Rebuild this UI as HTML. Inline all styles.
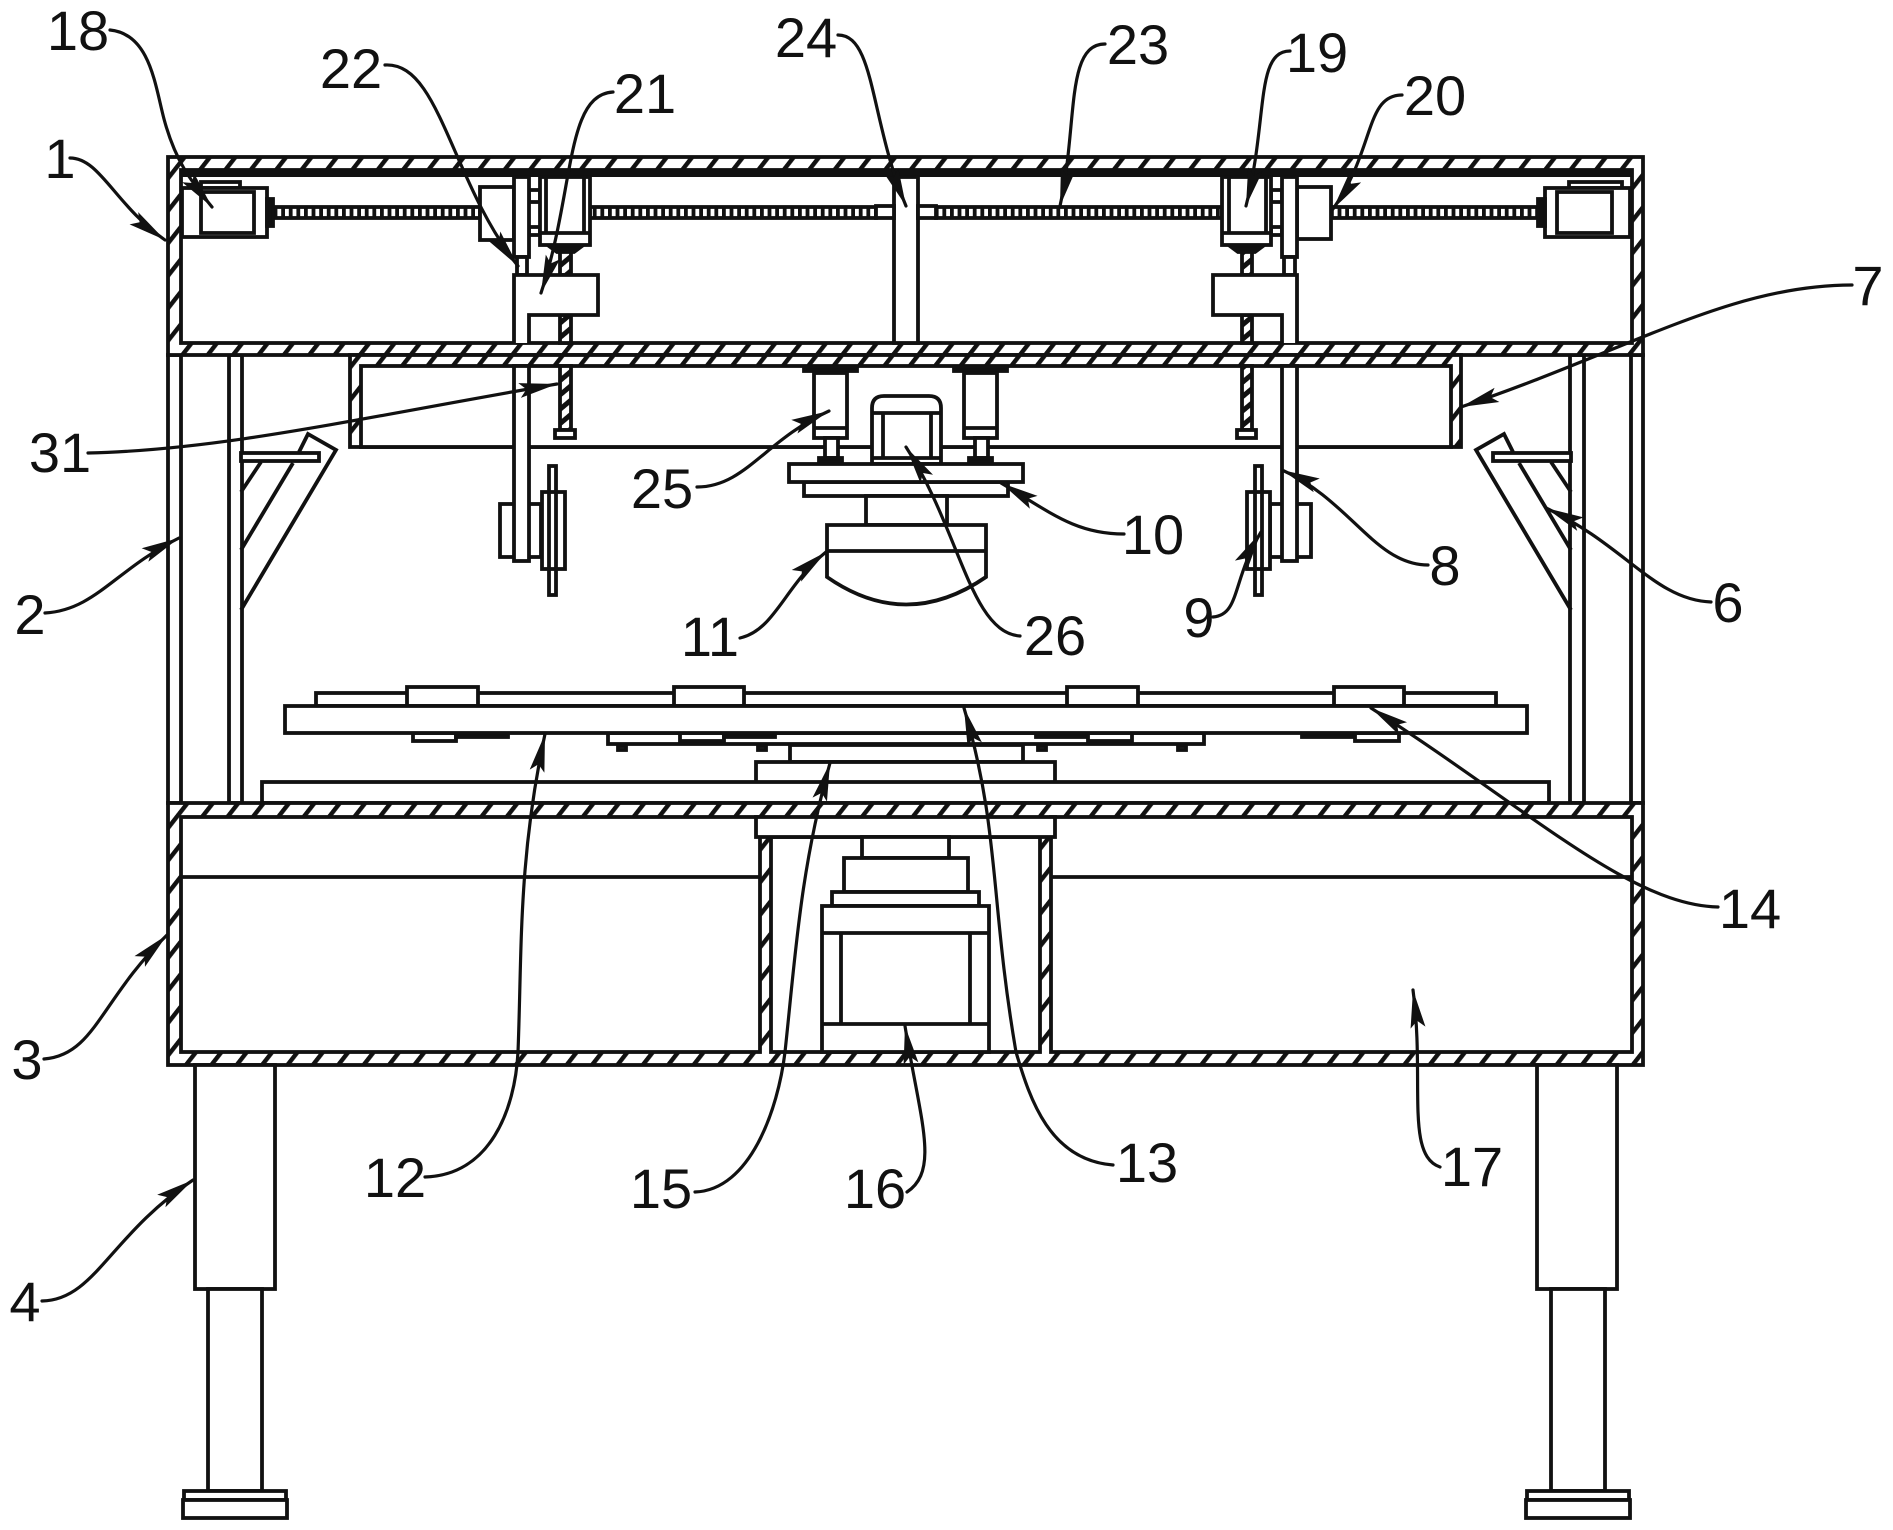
<!DOCTYPE html>
<html>
<head>
<meta charset="utf-8">
<style>
html,body{margin:0;padding:0;background:#fff}
svg{display:block}
text{font-family:"Liberation Sans",sans-serif;font-size:56px;fill:#111;text-anchor:middle}
.s rect,.s path,.s polyline,.s line{stroke:#111;stroke-width:3.8}
.l path{fill:none;stroke:#111;stroke-width:3.2;stroke-linecap:round;marker-end:url(#ah)}
</style>
</head>
<body>
<svg width="1893" height="1530" viewBox="0 0 1893 1530" xmlns="http://www.w3.org/2000/svg">
<defs>
<pattern id="h" patternUnits="userSpaceOnUse" width="20" height="20" patternTransform="rotate(38)">
<rect width="20" height="20" fill="#fff"/><rect x="0" y="0" width="4.4" height="20" fill="#111"/>
</pattern>
<pattern id="sh" patternUnits="userSpaceOnUse" x="0" y="207" width="7.6" height="11">
<rect width="7.6" height="11" fill="#fff"/><rect width="3.8" height="11" fill="#111"/>
</pattern>
<pattern id="sv" patternUnits="userSpaceOnUse" width="11" height="11" patternTransform="rotate(50)">
<rect width="11" height="11" fill="#fff"/><rect width="5" height="11" fill="#111"/>
</pattern>
<marker id="ah" markerUnits="userSpaceOnUse" markerWidth="46" markerHeight="24" refX="38" refY="10" orient="auto">
<path d="M0 2.5 L38 10 L0 17.5 L7 10 Z" fill="#111"/>
</marker>
</defs>
<rect width="1893" height="1530" fill="#fff"/>

<g class="s">
<!-- columns -->
<rect x="168" y="355" width="13" height="448" fill="#fff"/>
<rect x="229" y="355" width="13" height="448" fill="#fff"/>
<rect x="1570" y="355" width="14" height="448" fill="#fff"/>
<rect x="1631" y="355" width="12" height="448" fill="#fff"/>

<!-- upper housing -->
<rect x="168" y="157" width="1475" height="198" fill="url(#h)"/>
<rect x="181" y="170" width="1451" height="173" fill="#fff"/>
<rect x="181" y="171" width="1451" height="5" fill="#111" style="stroke-width:2"/>

<!-- box 7 -->
<rect x="350" y="355" width="1111" height="92" fill="url(#h)"/>
<rect x="361" y="366" width="1090" height="81" fill="#fff"/>

<!-- horizontal screws -->
<rect x="273" y="207" width="207" height="11" fill="url(#sh)"/>
<rect x="590" y="207" width="286" height="11" fill="url(#sh)"/>
<rect x="936" y="207" width="286" height="11" fill="url(#sh)"/>
<rect x="1331" y="207" width="207" height="11" fill="url(#sh)"/>

<!-- end motors -->
<rect x="201" y="182" width="39" height="6" fill="#fff"/>
<rect x="182" y="188" width="85" height="49" fill="#fff"/>
<rect x="201" y="192" width="53" height="41" fill="#fff"/>
<rect x="267" y="199" width="6" height="27" fill="#111"/>
<rect x="1569" y="182" width="53" height="6" fill="#fff"/>
<rect x="1545" y="188" width="85" height="49" fill="#fff"/>
<rect x="1557" y="192" width="55" height="41" fill="#fff"/>
<rect x="1538" y="199" width="7" height="27" fill="#111"/>

<!-- centre column 24 -->
<rect x="894" y="177" width="24" height="166" fill="#fff"/>
<rect x="876" y="206" width="18" height="12" fill="#fff"/>
<rect x="918" y="206" width="18" height="12" fill="#fff"/>

<!-- left carriage -->
<rect x="480" y="187" width="34" height="53" fill="#fff"/>
<rect x="529" y="190" width="11" height="12" fill="#fff"/>
<rect x="529" y="227" width="11" height="8" fill="#fff"/>
<rect x="560" y="245" width="11" height="30" fill="url(#sv)"/>
<rect x="560" y="315" width="11" height="28" fill="url(#sv)"/>
<rect x="560" y="366" width="11" height="64" fill="url(#sv)"/>
<rect x="555" y="430" width="20" height="8" fill="#fff"/>
<path d="M549 246 H582 L574 252 H557 Z" fill="#111"/>
<rect x="540" y="177" width="50" height="68" fill="#fff"/>
<line x1="546" y1="177" x2="546" y2="233"/>
<line x1="584" y1="177" x2="584" y2="233"/>
<line x1="540" y1="233" x2="590" y2="233"/>
<rect x="514" y="177" width="15" height="80" fill="#fff"/>
<rect x="517" y="257" width="10" height="18" fill="#fff"/>
<path d="M514 343 V275 H598 V315 H529 V343" fill="#fff"/>
<rect x="500" y="504" width="41" height="53" fill="#fff"/>
<rect x="514" y="366" width="15" height="195" fill="#fff"/>
<rect x="549" y="466" width="7" height="129" fill="#fff"/>
<rect x="542" y="492" width="23" height="77" fill="#fff"/>
<line x1="549" y1="492" x2="549" y2="569"/>
<line x1="556" y1="492" x2="556" y2="569"/>

<!-- right carriage -->
<rect x="1297" y="187" width="34" height="52" fill="#fff"/>
<rect x="1271" y="190" width="11" height="12" fill="#fff"/>
<rect x="1271" y="227" width="11" height="8" fill="#fff"/>
<rect x="1242" y="245" width="10" height="30" fill="url(#sv)"/>
<rect x="1242" y="315" width="10" height="28" fill="url(#sv)"/>
<rect x="1242" y="366" width="10" height="64" fill="url(#sv)"/>
<rect x="1237" y="430" width="19" height="8" fill="#fff"/>
<path d="M1230 246 H1263 L1255 252 H1238 Z" fill="#111"/>
<rect x="1222" y="177" width="49" height="68" fill="#fff"/>
<line x1="1229" y1="177" x2="1229" y2="233"/>
<line x1="1266" y1="177" x2="1266" y2="233"/>
<line x1="1222" y1="233" x2="1271" y2="233"/>
<rect x="1282" y="177" width="15" height="80" fill="#fff"/>
<rect x="1284" y="257" width="11" height="18" fill="#fff"/>
<path d="M1297 343 V275 H1213 V315 H1282 V343" fill="#fff"/>
<rect x="1270" y="504" width="41" height="53" fill="#fff"/>
<rect x="1282" y="366" width="15" height="195" fill="#fff"/>
<rect x="1255" y="466" width="7" height="129" fill="#fff"/>
<rect x="1247" y="492" width="23" height="77" fill="#fff"/>
<line x1="1255" y1="492" x2="1255" y2="569"/>
<line x1="1262" y1="492" x2="1262" y2="569"/>

<!-- braces -->
<path d="M241 610 L336 450 L308 434 L299 452" fill="none"/>
<path d="M241 550 L293 463" fill="none"/>
<path d="M241 492 L261 462" fill="none"/>
<rect x="241" y="453" width="78" height="8" fill="#fff"/>
<path d="M1571 610 L1476 450 L1504 434 L1513 452" fill="none"/>
<path d="M1571 550 L1519 463" fill="none"/>
<path d="M1571 492 L1551 462" fill="none"/>
<rect x="1493" y="453" width="78" height="8" fill="#fff"/>

<!-- cylinders 25 -->
<rect x="804" y="367" width="53" height="4" fill="#111"/>
<rect x="814" y="373" width="33" height="65" fill="#fff"/>
<line x1="814" y1="428" x2="847" y2="428"/>
<rect x="825" y="438" width="13" height="20" fill="#fff"/>
<rect x="819" y="458" width="23" height="4" fill="#111"/>
<rect x="954" y="367" width="53" height="4" fill="#111"/>
<rect x="964" y="373" width="33" height="65" fill="#fff"/>
<line x1="964" y1="428" x2="997" y2="428"/>
<rect x="975" y="438" width="13" height="20" fill="#fff"/>
<rect x="969" y="458" width="23" height="4" fill="#111"/>

<!-- motor 26 -->
<path d="M872 464 V408 Q872 396 884 396 H929 Q941 396 941 408 V464 Z" fill="#fff"/>
<line x1="872" y1="413" x2="941" y2="413"/>
<line x1="883" y1="413" x2="883" y2="457"/>
<line x1="931" y1="413" x2="931" y2="457"/>
<line x1="872" y1="458" x2="941" y2="458"/>

<!-- head -->
<rect x="804" y="482" width="204" height="14" fill="#fff"/>
<rect x="789" y="464" width="234" height="18" fill="#fff"/>
<rect x="866" y="496" width="81" height="29" fill="#fff"/>
<path d="M827 525 H986 V577 Q906 632 827 577 Z" fill="#fff"/>
<line x1="827" y1="551" x2="986" y2="551"/>

<!-- table -->
<rect x="316" y="693" width="1180" height="13" fill="#fff"/>
<rect x="407" y="687" width="71" height="19" fill="#fff"/>
<rect x="674" y="687" width="70" height="19" fill="#fff"/>
<rect x="1067" y="687" width="71" height="19" fill="#fff"/>
<rect x="1334" y="687" width="70" height="19" fill="#fff"/>
<rect x="608" y="733" width="596" height="11" fill="#fff"/>
<rect x="413" y="733" width="43" height="8" fill="#fff"/>
<rect x="456" y="733" width="52" height="4" fill="#111"/>
<rect x="680" y="733" width="44" height="8" fill="#fff"/>
<rect x="724" y="733" width="51" height="4" fill="#111"/>
<rect x="1036" y="733" width="52" height="4" fill="#111"/>
<rect x="1088" y="733" width="44" height="8" fill="#fff"/>
<rect x="1302" y="733" width="53" height="4" fill="#111"/>
<rect x="1355" y="733" width="44" height="8" fill="#fff"/>
<rect x="285" y="706" width="1242" height="27" fill="#fff"/>
<rect x="618" y="746" width="8" height="4" fill="#555"/>
<rect x="758" y="746" width="8" height="4" fill="#555"/>
<rect x="899" y="746" width="8" height="4" fill="#555"/>
<rect x="1038" y="746" width="8" height="4" fill="#555"/>
<rect x="1178" y="746" width="8" height="4" fill="#555"/>
<rect x="790" y="745" width="233" height="17" fill="#fff"/>
<rect x="756" y="762" width="299" height="41" fill="#fff"/>
<rect x="262" y="782" width="1287" height="21" fill="#fff"/>

<!-- lower housing -->
<rect x="168" y="803" width="1475" height="262" fill="url(#h)"/>
<rect x="181" y="817" width="579" height="235" fill="#fff"/>
<rect x="1051" y="817" width="581" height="235" fill="#fff"/>
<rect x="771" y="837" width="269" height="215" fill="#fff"/>
<line x1="181" y1="877" x2="760" y2="877"/>
<line x1="1051" y1="877" x2="1632" y2="877"/>
<rect x="756" y="817" width="299" height="20" fill="#fff"/>

<!-- motor 16 stack -->
<rect x="862" y="837" width="87" height="21" fill="#fff"/>
<rect x="844" y="858" width="124" height="34" fill="#fff"/>
<rect x="832" y="892" width="147" height="14" fill="#fff"/>
<rect x="822" y="906" width="167" height="146" fill="#fff"/>
<line x1="822" y1="933" x2="989" y2="933"/>
<line x1="841" y1="933" x2="841" y2="1024"/>
<line x1="970" y1="933" x2="970" y2="1024"/>
<line x1="822" y1="1024" x2="989" y2="1024"/>

<!-- legs -->
<rect x="195" y="1065" width="80" height="224" fill="#fff"/>
<rect x="208" y="1289" width="54" height="202" fill="#fff"/>
<rect x="184" y="1491" width="102" height="9" fill="#fff"/>
<rect x="183" y="1500" width="104" height="18" fill="#fff"/>
<rect x="1537" y="1065" width="80" height="224" fill="#fff"/>
<rect x="1551" y="1289" width="54" height="202" fill="#fff"/>
<rect x="1527" y="1491" width="102" height="9" fill="#fff"/>
<rect x="1526" y="1500" width="104" height="18" fill="#fff"/>
</g>

<!-- leaders -->
<g class="l">
<path d="M110 30 C150 34 155 85 164 119 C175 160 190 180 212 207"/>
<path d="M70 158 C100 158 115 205 165 240"/>
<path d="M385 65 C440 62 450 180 518 266"/>
<path d="M613 92 C565 95 575 190 541 293"/>
<path d="M838 35 C875 35 870 120 906 206"/>
<path d="M1105 44 C1065 44 1078 125 1060 206"/>
<path d="M1290 51 C1255 51 1268 120 1246 206"/>
<path d="M1402 95 C1365 95 1375 150 1333 209"/>
<path d="M1852 285 C1730 285 1630 350 1461 407"/>
<path d="M88 453 C220 450 350 420 557 384"/>
<path d="M697 487 C745 487 765 440 829 411"/>
<path d="M1124 534 C1075 534 1050 512 1001 483"/>
<path d="M1428 565 C1375 565 1350 500 1282 470"/>
<path d="M1711 602 C1655 600 1625 545 1546 508"/>
<path d="M1213 617 C1240 615 1232 580 1261 532"/>
<path d="M1020 636 C970 632 960 530 906 447"/>
<path d="M740 638 C775 630 785 585 826 552"/>
<path d="M45 613 C95 610 115 570 179 538"/>
<path d="M44 1059 C95 1055 100 1000 167 935"/>
<path d="M42 1301 C95 1300 110 1235 193 1180"/>
<path d="M425 1177 C490 1175 515 1110 518 1052 C522 950 518 860 545 734"/>
<path d="M695 1192 C750 1190 778 1110 785 1052 C795 960 800 870 830 763"/>
<path d="M907 1192 C940 1170 920 1120 905 1026"/>
<path d="M1113 1165 C1050 1160 1030 1100 1016 1052 C990 900 1000 830 964 708"/>
<path d="M1440 1167 C1405 1155 1425 1080 1413 990"/>
<path d="M1718 907 C1630 905 1530 810 1371 708"/>
</g>

<!-- labels -->
<text x="78" y="50">18</text>
<text x="60" y="178">1</text>
<text x="351" y="88">22</text>
<text x="645" y="113">21</text>
<text x="806" y="57">24</text>
<text x="1138" y="64">23</text>
<text x="1317" y="72">19</text>
<text x="1435" y="115">20</text>
<text x="1868" y="305">7</text>
<text x="60" y="472">31</text>
<text x="662" y="508">25</text>
<text x="1153" y="554">10</text>
<text x="1445" y="585">8</text>
<text x="1728" y="622">6</text>
<text x="1199" y="637">9</text>
<text x="1055" y="655">26</text>
<text x="710" y="656">11</text>
<text x="30" y="634">2</text>
<text x="27" y="1079">3</text>
<text x="25" y="1321">4</text>
<text x="395" y="1197">12</text>
<text x="661" y="1208">15</text>
<text x="875" y="1208">16</text>
<text x="1147" y="1182">13</text>
<text x="1472" y="1186">17</text>
<text x="1750" y="928">14</text>
</svg>
</body>
</html>
